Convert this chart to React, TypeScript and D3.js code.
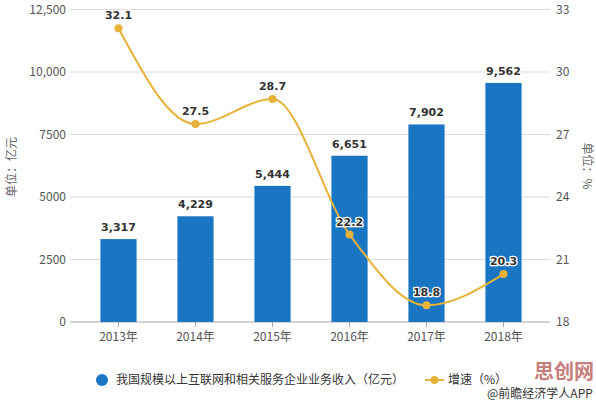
import React from "react";
import * as d3 from "d3";

const years = ["2013年", "2014年", "2015年", "2016年", "2017年", "2018年"];
const revenue = [3317, 4229, 5444, 6651, 7902, 9562];
const growth = [32.1, 27.5, 28.7, 22.2, 18.8, 20.3];
const leftTicks = [0, 2500, 5000, 7500, 10000, 12500];
const rightTicks = [18, 21, 24, 27, 30, 33];

const W = 596;
const H = 402;
const plot = { left: 80, right: 542, top: 9.5, bottom: 322 };

const BLUE = "#1a76c2";
const GOLD = "#e6b23a";
const font = "'Noto Sans CJK SC', 'Noto Sans', sans-serif";
const labelFont = "'DejaVu Sans', Verdana, sans-serif";

const fmtLeft = (v: number) => (v >= 10000 ? d3.format(",")(v) : String(v));

export default function App() {
  const x = d3
    .scaleBand<string>()
    .domain(years)
    .range([plot.left, plot.right])
    .paddingInner(0.53)
    .paddingOuter(0.265);
  const yL = d3.scaleLinear().domain([0, 12500]).range([plot.bottom, plot.top]);
  const yR = d3.scaleLinear().domain([18, 33]).range([plot.bottom, plot.top]);
  const cx = (c: string) => (x(c) as number) + x.bandwidth() / 2;

  const line = d3
    .line<number>()
    .x((_, i) => cx(years[i]))
    .y((d) => yR(d))
    .curve(d3.curveMonotoneX);

  return (
    <svg
      width={W}
      height={H}
      style={{ position: "absolute", left: 0, top: 0, background: "#fff" }}
    >
      {/* grid */}
      {leftTicks.map((t) => (
        <line
          key={t}
          x1={70}
          x2={550}
          y1={yL(t)}
          y2={yL(t)}
          stroke={t === 0 ? "#aaa" : "#dcdcdc"}
          strokeWidth={1}
        />
      ))}
      {leftTicks.map((t) => (
        <text
          key={"l" + t}
          x={66}
          y={yL(t) + 4}
          textAnchor="end"
          fontFamily={font}
          fontSize={12}
          fill="#555"
        >
          {fmtLeft(t)}
        </text>
      ))}
      {rightTicks.map((t) => (
        <text
          key={"r" + t}
          x={556}
          y={yR(t) + 4}
          fontFamily={font}
          fontSize={12}
          fill="#555"
        >
          {t}
        </text>
      ))}
      <text
        transform="translate(16,167) rotate(-90)"
        textAnchor="middle"
        fontFamily={font}
        fontSize={12}
        fill="#666"
      >
        单位：亿元
      </text>
      <text
        transform="translate(583,166) rotate(90)"
        textAnchor="middle"
        fontFamily={font}
        fontSize={12}
        fill="#666"
      >
        单位：%
      </text>

      {/* x axis */}
      {years.map((c) => (
        <g key={c}>
          <line x1={cx(c)} x2={cx(c)} y1={plot.bottom} y2={plot.bottom + 5} stroke="#aaa" />
          <text
            x={cx(c)}
            y={plot.bottom + 19}
            textAnchor="middle"
            fontFamily={font}
            fontSize={12}
            fill="#555"
          >
            {c}
          </text>
        </g>
      ))}

      {/* bars */}
      {revenue.map((v, i) => (
        <rect
          key={i}
          x={x(years[i])}
          y={yL(v)}
          width={x.bandwidth()}
          height={plot.bottom - yL(v)}
          fill={BLUE}
        />
      ))}
      {revenue.map((v, i) => (
        <text
          key={"bl" + i}
          x={cx(years[i])}
          y={yL(v) - 8}
          textAnchor="middle"
          fontFamily={labelFont}
          fontWeight="bold"
          fontSize={11}
          fill="#333"
          stroke="#fff"
          strokeWidth={2}
          paintOrder="stroke"
        >
          {d3.format(",")(v)}
        </text>
      ))}

      {/* growth line */}
      <path d={line(growth) || ""} fill="none" stroke={GOLD} strokeWidth={2} />
      {growth.map((v, i) => (
        <circle key={"p" + i} cx={cx(years[i])} cy={yR(v)} r={4} fill={GOLD} />
      ))}
      {growth.map((v, i) => (
        <text
          key={"gl" + i}
          x={cx(years[i])}
          y={yR(v) - 9}
          textAnchor="middle"
          fontFamily={labelFont}
          fontWeight="bold"
          fontSize={11}
          fill="#333"
          stroke="#fff"
          strokeWidth={2.5}
          paintOrder="stroke"
        >
          {v.toFixed(1)}
        </text>
      ))}

      {/* legend */}
      <circle cx={102} cy={380} r={6} fill={BLUE} />
      <text x={116} y={384} fontFamily={font} fontSize={12} fill="#333">
        我国规模以上互联网和相关服务企业业务收入（亿元）
      </text>
      <line x1={425} x2={444} y1={380} y2={380} stroke={GOLD} strokeWidth={2} />
      <circle cx={434.5} cy={380} r={4} fill={GOLD} />
      <text x={448} y={384} fontFamily={font} fontSize={12} fill="#333">
        增速（%）
      </text>

      {/* source + watermark */}
      <text
        x={594}
        y={379}
        textAnchor="end"
        fontFamily={font}
        fontWeight="bold"
        fontSize={20}
        fill="#b5524f"
        opacity={0.75}
      >
        思创网
      </text>
      <text x={487} y={398} fontFamily={font} fontSize={12} fill="#333">
        @前瞻经济学人APP
      </text>
    </svg>
  );
}
